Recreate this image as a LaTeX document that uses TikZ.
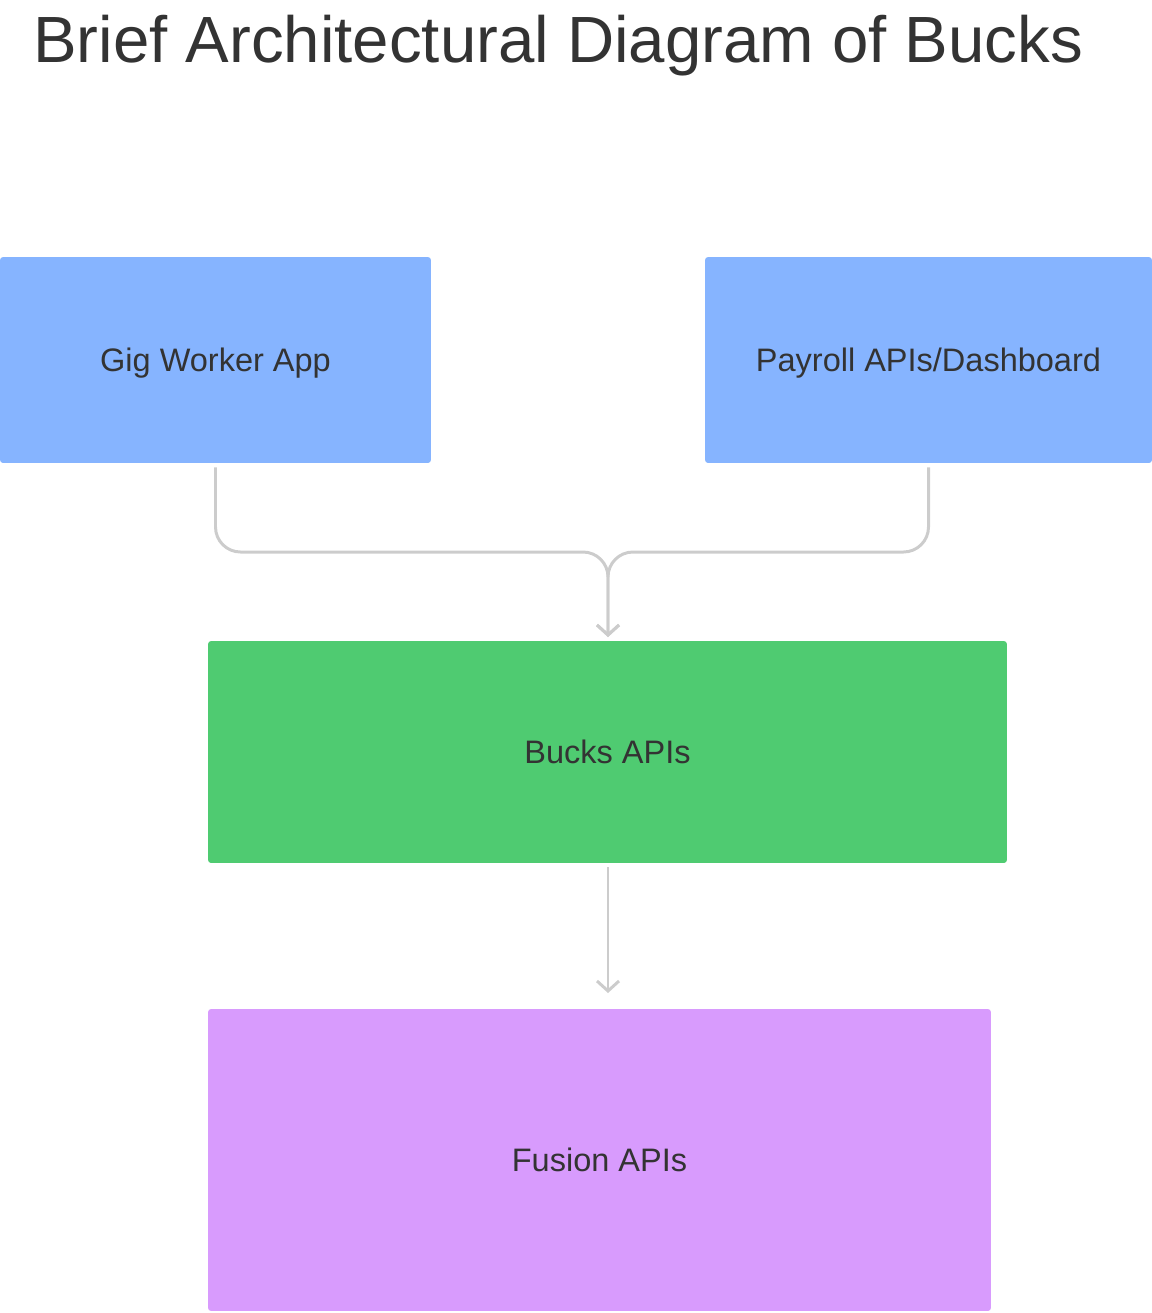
\documentclass[tikz,border=0pt]{standalone}
\usepackage{fontspec}
\setmainfont{Liberation Sans}
\usetikzlibrary{arrows.meta}

\definecolor{appblue}{HTML}{86B4FF}
\definecolor{apigreen}{HTML}{4FCB71}
\definecolor{fusionpurple}{HTML}{D89BFD}
\definecolor{inkgray}{HTML}{333333}
\definecolor{wiregray}{HTML}{CCCCCC}

\begin{document}
\begin{tikzpicture}[x=0.02cm, y=-0.02cm,
  every node/.style={text=inkgray},
  block/.style={rounded corners=0.06cm, inner sep=0pt, text height=13pt, text depth=0pt,
    font=\fontsize{18.5}{22}\selectfont},
  link/.style={draw=wiregray, line width=1.7pt, rounded corners=0.5cm,
    shorten <=0.08cm, -{Straight Barb[length=0.2cm, width=0.44cm, line width=1.7pt]}}]

\useasboundingbox (0,0) rectangle (1152,1313);

% ---------- TITLE ----------
\node[anchor=base west, inner sep=0pt, font=\fontsize{37.2}{42}\selectfont] (title) at (33,62)
  {Brief Architectural Diagram of Bucks};

% ---------- CLIENTS ----------
\node[block, fill=appblue, minimum width=8.62cm, minimum height=4.12cm] (gig) at (215.5,360)
  {Gig Worker App};
\node[block, fill=appblue, minimum width=8.94cm, minimum height=4.12cm] (payroll) at (928.5,360)
  {Payroll APIs/Dashboard};

% ---------- SERVICES ----------
\node[block, fill=apigreen, minimum width=15.98cm, minimum height=4.44cm] (bucks) at (607.5,752)
  {Bucks APIs};
\node[block, fill=fusionpurple, minimum width=15.66cm, minimum height=6.04cm] (fusion) at (599.5,1160)
  {Fusion APIs};

% ---------- CONNECTORS ----------
\coordinate (merge) at (608,552);
\coordinate (bucksin) at (608,641);
\coordinate (bucksout) at (608,863);
\coordinate (fusionin) at (608,1009);
\draw[link, shorten >=0.08cm] (gig.south) |- (merge) -- (bucksin);
\draw[link, shorten >=0.08cm] (payroll.south) |- (merge) -- (bucksin);
\draw[link, shorten >=0.32cm] (bucksout) -- (fusionin);

\end{tikzpicture}
\end{document}
